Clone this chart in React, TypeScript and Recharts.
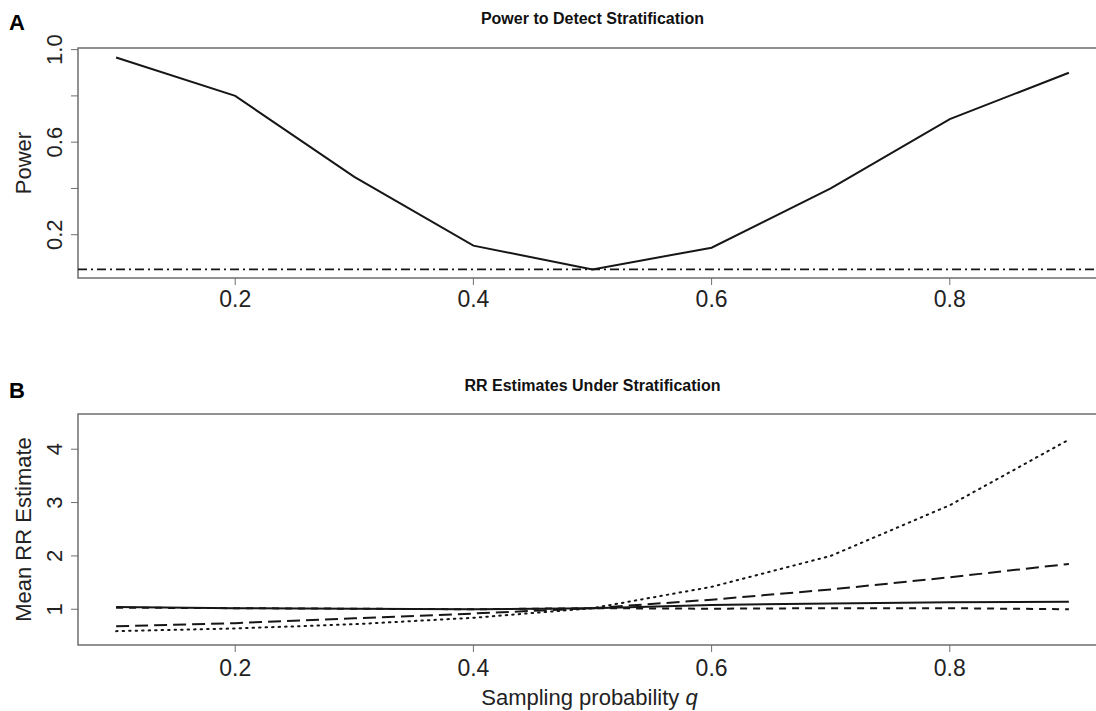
import React from "react";
import { LineChart, Line, XAxis, YAxis, ReferenceLine, ReferenceArea } from "recharts";

const qValues = [0.1, 0.2, 0.3, 0.4, 0.5, 0.6, 0.7, 0.8, 0.9];
const powerValues = [0.966, 0.8, 0.45, 0.153, 0.05, 0.144, 0.4, 0.7, 0.9];
const alphaLevel = 0.05;

const rrSolid = [1.04, 1.02, 1.01, 1.0, 1.02, 1.08, 1.11, 1.13, 1.14];
const rrShortDash = [1.03, 1.02, 1.01, 1.0, 1.02, 1.01, 1.02, 1.02, 1.0];
const rrLongDash = [0.68, 0.74, 0.83, 0.92, 1.02, 1.18, 1.37, 1.6, 1.85];
const rrDotted = [0.59, 0.64, 0.72, 0.84, 1.02, 1.42, 2.0, 2.95, 4.18];

const xTicks = [0.2, 0.4, 0.6, 0.8];
const powerTicks = [0.2, 0.4, 0.6, 0.8, 1.0];
const powerLabelled = [0.2, 0.6, 1.0];
const rrTicks = [1, 2, 3, 4];

const powerData = qValues.map((q, i) => ({ q, power: powerValues[i] }));
const rrData = qValues.map((q, i) => ({
  q,
  solid: rrSolid[i],
  shortDash: rrShortDash[i],
  longDash: rrLongDash[i],
  dotted: rrDotted[i],
}));

const FONT = '"Liberation Sans", Arial, sans-serif';
const INK = "#161616";
const FRAME = "#6e6e6e";
const X_DOMAIN: [number, number] = [0.068, 0.932];
const A_DOMAIN: [number, number] = [0.013, 1.007];
const B_DOMAIN: [number, number] = [0.33, 4.66];

function RotTick(props: any) {
  const { x, y, payload, show } = props;
  if (show && !show.includes(payload.value)) return null;
  const tx = x - 9;
  return (
    <text
      x={tx}
      y={y}
      transform={`rotate(-90, ${tx}, ${y})`}
      textAnchor="middle"
      fontSize={22}
      fontFamily={FONT}
      fill="#222"
    >
      {String(props.fmt ? props.fmt(payload.value) : payload.value)}
    </text>
  );
}

// rotated axis title sitting left of the tick labels
function YTitle({ viewBox, text }: any) {
  const cy = viewBox.y + viewBox.height / 2;
  const tx = 31;
  return (
    <text
      x={tx}
      y={cy}
      transform={`rotate(-90, ${tx}, ${cy})`}
      textAnchor="middle"
      fontSize={22}
      fontFamily={FONT}
      fill="#222"
    >
      {text}
    </text>
  );
}

function XLabel(props: any) {
  const vb = props.viewBox;
  const cx = vb.x + vb.width / 2 - 3;
  return (
    <text x={cx} y={vb.y + 60} textAnchor="middle" fontSize={22} fontFamily={FONT} fill="#222">
      <tspan>Sampling probability </tspan>
      <tspan fontStyle="italic">q</tspan>
    </text>
  );
}

const xTickStyle = { fontSize: 23, fontFamily: FONT, fill: "#222" };

export default function App() {
  return (
    <div
      style={{
        position: "absolute",
        left: 0,
        top: 0,
        width: 1096,
        height: 711,
        overflow: "hidden",
        background: "#fff",
        fontFamily: FONT,
      }}
    >
      <div style={{ position: "absolute", left: 9, top: 11, fontSize: 22, fontWeight: "bold", lineHeight: "24px" }}>A</div>
      <div style={{ position: "absolute", left: 0, top: 10, width: 1185, textAlign: "center", fontSize: 16, fontWeight: "bold", color: "#111" }}>
        Power to Detect Stratification
      </div>
      <div style={{ position: "absolute", left: 9, top: 379, fontSize: 22, fontWeight: "bold", lineHeight: "24px" }}>B</div>
      <div style={{ position: "absolute", left: 0, top: 377, width: 1185, textAlign: "center", fontSize: 16, fontWeight: "bold", color: "#111" }}>
        RR Estimates Under Stratification
      </div>

      {/* panel A */}
      <div style={{ position: "absolute", left: 0, top: 0 }}>
        <LineChart width={1120} height={330} data={powerData} margin={{ top: 48, right: 13, bottom: 0, left: 0 }}>
          <XAxis
            dataKey="q"
            type="number"
            domain={X_DOMAIN}
            ticks={xTicks}
            allowDataOverflow
            axisLine={false}
            tickLine={{ stroke: FRAME }}
            tickSize={7}
            tickMargin={6}
            height={52}
            tick={xTickStyle}
          />
          <YAxis
            type="number"
            domain={A_DOMAIN}
            ticks={powerTicks}
            allowDataOverflow
            axisLine={false}
            tickLine={{ stroke: FRAME }}
            tickSize={7}
            tickMargin={0}
            width={78}
            tick={(p: any) => <RotTick {...p} show={powerLabelled} fmt={(v: number) => v.toFixed(1)} />}
            label={(p: any) => <YTitle {...p} text="Power" />}
          />
          <ReferenceArea
            x1={X_DOMAIN[0]}
            x2={X_DOMAIN[1]}
            y1={A_DOMAIN[0]}
            y2={A_DOMAIN[1]}
            fill="none"
            stroke={FRAME}
            strokeWidth={1.5}
            ifOverflow="visible"
          />
          <ReferenceLine y={alphaLevel} stroke={INK} strokeWidth={1.8} strokeDasharray="9 4 2 4" />
          <Line dataKey="power" stroke={INK} strokeWidth={2} dot={false} isAnimationActive={false} />
        </LineChart>
      </div>

      {/* panel B */}
      <div style={{ position: "absolute", left: 0, top: 360 }}>
        <LineChart width={1120} height={351} data={rrData} margin={{ top: 54, right: 13, bottom: 0, left: 0 }}>
          <XAxis
            dataKey="q"
            type="number"
            domain={X_DOMAIN}
            ticks={xTicks}
            allowDataOverflow
            axisLine={false}
            tickLine={{ stroke: FRAME }}
            tickSize={7}
            tickMargin={8}
            height={66}
            tick={xTickStyle}
            label={<XLabel />}
          />
          <YAxis
            type="number"
            domain={B_DOMAIN}
            ticks={rrTicks}
            allowDataOverflow
            axisLine={false}
            tickLine={{ stroke: FRAME }}
            tickSize={7}
            tickMargin={0}
            width={78}
            tick={(p: any) => <RotTick {...p} />}
            label={(p: any) => <YTitle {...p} text="Mean RR Estimate" />}
          />
          <ReferenceArea
            x1={X_DOMAIN[0]}
            x2={X_DOMAIN[1]}
            y1={B_DOMAIN[0]}
            y2={B_DOMAIN[1]}
            fill="none"
            stroke={FRAME}
            strokeWidth={1.5}
            ifOverflow="visible"
          />
          <Line dataKey="dotted" stroke={INK} strokeWidth={2} strokeDasharray="1.5 5" strokeLinecap="round" dot={false} isAnimationActive={false} />
          <Line dataKey="longDash" stroke={INK} strokeWidth={2} strokeDasharray="13 6" dot={false} isAnimationActive={false} />
          <Line dataKey="shortDash" stroke={INK} strokeWidth={2} strokeDasharray="7 6" dot={false} isAnimationActive={false} />
          <Line dataKey="solid" stroke={INK} strokeWidth={2} dot={false} isAnimationActive={false} />
        </LineChart>
      </div>
    </div>
  );
}
